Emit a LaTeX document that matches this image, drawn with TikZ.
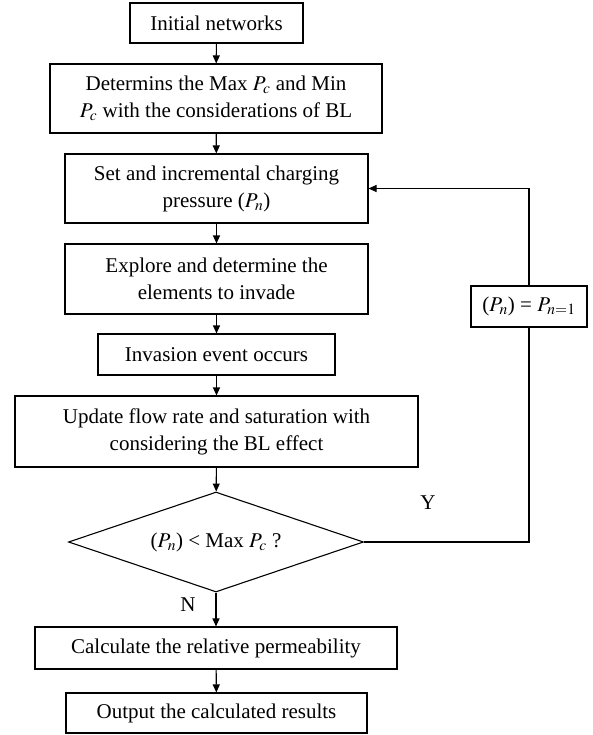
\documentclass[tikz,border=0pt]{standalone}
\usepackage{mathptmx}
\usepackage{fontspec}
\setmainfont{Liberation Serif}
\usepackage{tikz}
\usetikzlibrary{positioning,arrows.meta,shapes.geometric}

\begin{document}
\begin{tikzpicture}[x=1pt,y=-1pt,line width=1.1pt,
    every node/.style={font=\fontsize{21}{27}\selectfont},
    >={Triangle[length=8pt,width=7pt]}]
      \tikzstyle{b}=[rectangle,draw,inner sep=0pt,align=center,fill=white];
      \tikzstyle{d}=[diamond,draw,inner sep=0pt,aspect=2.95,
                     minimum width=295,minimum height=100];
      \useasboundingbox (0,0) rectangle (593,735);
      \node[b,minimum width=173,minimum height=40] (init) at (216.5,23)    {Initial networks};
      \node[b,minimum width=332,minimum height=69] (bl)   at (216,98.5)    {Determins the Max $P_c$ and Min\\$P_c$ with the considerations of BL};
      \node[b,minimum width=303,minimum height=69] (set)  at (216.5,188.5) {Set and incremental charging\\pressure ($P_n$)};
      \node[b,minimum width=303,minimum height=70] (expl) at (216.5,279)   {Explore and determine the\\elements to invade};
      \node[b,minimum width=237,minimum height=41] (inv)  at (216.5,354.5) {Invasion event occurs};
      \node[b,minimum width=403,minimum height=71] (upd)  at (216.5,431.5) {Update flow rate and saturation with\\considering the BL effect};
      \node[d] (dec) at (216,542) {($P_n$) < Max $P_c$ ?};
      \node[b,minimum width=362,minimum height=42] (calc) at (216,648)     {Calculate the relative permeability};
      \node[b,minimum width=301,minimum height=40] (out)  at (216.5,713)   {Output the calculated results};
      \node[b,minimum width=116,minimum height=41] (inc)  at (529,306.5)   {($P_n$) = $P_{n=1}$};
      \node (y) at (428,503) {Y};
      \node (n) at (188,605) {N};
      \draw[->] (init)--(bl); \draw[->] (bl)--(set); \draw[->] (set)--(expl);
      \draw[->] (expl)--(inv); \draw[->] (inv)--(upd); \draw[->] (upd)--(dec);
      \draw[->] (dec)--(calc); \draw[->] (calc)--(out);
      \draw (dec.east) -| (inc.south);
      \draw[->] (inc.north) |- (set.east);
    \end{tikzpicture}
\end{document}
